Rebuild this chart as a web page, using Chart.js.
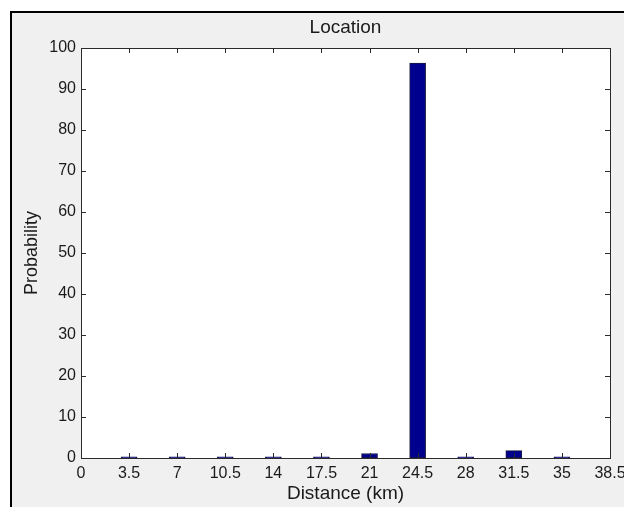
<!DOCTYPE html>
<html><head><meta charset="utf-8">
<script src="https://cdn.jsdelivr.net/npm/chart.js@4/dist/chart.umd.min.js"></script>
<style>html,body{margin:0;padding:0;background:#fff;overflow:hidden}canvas{display:block}</style>
</head><body>
<canvas id="c" width="624" height="507"></canvas>
<script>
const titleText = 'Location';
const xLabel = 'Distance (km)';
const yLabel = 'Probability';
const distances = [3.5, 7, 10.5, 14, 17.5, 21, 24.5, 28, 31.5, 35];
const probabilities = [0.3, 0.3, 0.3, 0.3, 0.3, 1.1, 96.3, 0.3, 1.8, 0.3];
const xTicks = [0, 3.5, 7, 10.5, 14, 17.5, 21, 24.5, 28, 31.5, 35, 38.5];
const yTicks = [0, 10, 20, 30, 40, 50, 60, 70, 80, 90, 100];

const FONT = '"Liberation Sans", Arial, sans-serif';
const TEXT = '#1a1a1a';

const framePlugin = {
  id: 'frame',
  beforeDraw(chart) {
    const ctx = chart.ctx, W = chart.width, H = chart.height, a = chart.chartArea;
    ctx.save();
    ctx.fillStyle = '#ffffff'; ctx.fillRect(0, 0, W, H);
    ctx.fillStyle = '#f0f0f0'; ctx.fillRect(10, 11, W - 10, H - 11);
    ctx.fillStyle = '#000000';
    ctx.fillRect(10, 11, 2, H - 11);
    ctx.fillRect(10, 11, W - 10, 2);
    ctx.fillStyle = '#ffffff';
    ctx.fillRect(a.left, a.top, a.right - a.left, a.bottom - a.top);
    ctx.restore();
  },
  afterDatasetsDraw(chart) {
    const ctx = chart.ctx, a = chart.chartArea;
    const xs = chart.scales.x, ys = chart.scales.y;
    ctx.save();
    ctx.strokeStyle = '#2b2b2b';
    ctx.lineWidth = 1;
    ctx.beginPath();
    const L = 5;
    xTicks.forEach(v => {
      const px = Math.round(xs.getPixelForValue(v)) + 0.5;
      ctx.moveTo(px, a.bottom); ctx.lineTo(px, a.bottom - L);
      ctx.moveTo(px, a.top); ctx.lineTo(px, a.top + L);
    });
    yTicks.forEach(v => {
      const py = Math.round(ys.getPixelForValue(v)) + 0.5;
      ctx.moveTo(a.left, py); ctx.lineTo(a.left + L, py);
      ctx.moveTo(a.right, py); ctx.lineTo(a.right - L, py);
    });
    ctx.stroke();
    ctx.strokeRect(Math.round(a.left) + 0.5, Math.round(a.top) + 0.5,
      Math.round(a.right - a.left), Math.round(a.bottom - a.top));
    ctx.restore();
  }
};

new Chart(document.getElementById('c'), {
  type: 'bar',
  data: {
    datasets: [{
      data: distances.map((d, i) => ({ x: d, y: probabilities[i] })),
      backgroundColor: '#00008f',
      borderColor: '#1a1a40',
      borderWidth: 1,
      borderSkipped: false,
      barThickness: 16
    }]
  },
  options: {
    responsive: false,
    animation: false,
    devicePixelRatio: 1,
    layout: { padding: { left: 0, right: 14, top: 0, bottom: 0 } },
    plugins: {
      legend: { display: false },
      tooltip: { enabled: false },
      title: {
        display: true, text: titleText, fullSize: false, color: TEXT,
        font: { family: FONT, size: 19, weight: 'normal', lineHeight: '18px' },
        padding: { top: 19, bottom: 11 }
      }
    },
    scales: {
      x: {
        type: 'linear', min: 0, max: 38.5, offset: false,
        grid: { display: false, drawTicks: false },
        border: { display: false },
        afterBuildTicks: s => { s.ticks = xTicks.map(v => ({ value: v })); },
        afterFit: s => { s.height = 49; s.paddingLeft = 0; s.paddingRight = 0; },
        ticks: {
          autoSkip: false, maxRotation: 0, padding: 6, color: TEXT,
          font: { family: FONT, size: 16 },
          callback: v => String(v)
        },
        title: {
          display: true, text: xLabel, color: TEXT,
          font: { family: FONT, size: 19, lineHeight: '18px' },
          padding: { top: 0, bottom: 4 }
        }
      },
      y: {
        min: 0, max: 100,
        grid: { display: false, drawTicks: false },
        border: { display: false },
        afterBuildTicks: s => { s.ticks = yTicks.map(v => ({ value: v })); },
        afterFit: s => { s.width = 81; s.paddingTop = 0; s.paddingBottom = 0; },
        ticks: {
          autoSkip: false, padding: 5, color: TEXT,
          font: { family: FONT, size: 16 }
        },
        title: {
          display: true, text: yLabel, color: TEXT,
          font: { family: FONT, size: 18, lineHeight: '18px' },
          padding: { top: 23, bottom: 0 }
        }
      }
    }
  },
  plugins: [framePlugin]
});
</script>
</body></html>
